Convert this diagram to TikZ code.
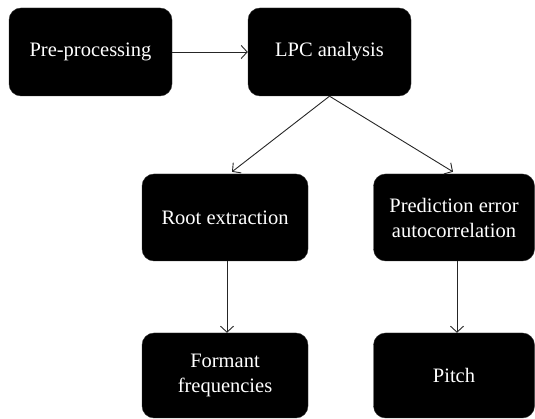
\documentclass[tikz,border=0pt]{standalone}
\usepackage{fontspec}
\setmainfont{Liberation Serif}
\usetikzlibrary{arrows.meta}
\begin{document}
\begin{tikzpicture}[x=1pt, y=1pt,
  every node/.style={font=\fontsize{20.5}{25}\selectfont},
  stagebox/.style={fill=black, draw=black!80, rounded corners=12pt, text=white,
    minimum width=163pt, minimum height=88pt, align=center, inner sep=0pt},
  link/.style={-{Straight Barb[length=6pt, width=13pt]}, black!85, line width=0.9pt}]
  \useasboundingbox (0,0) rectangle (535,419);
  % Top row
  \node[stagebox] (pre) at (90.5, 367) {Pre-processing};
  \node[stagebox] (lpc) at (329.5, 367) {LPC analysis};
  % Middle row
  \node[stagebox, minimum width=166pt, minimum height=87pt] (root) at (225, 201.5) {Root extraction};
  \node[stagebox, minimum width=161pt, minimum height=87pt] (err) at (454, 201.5) {Prediction error\\autocorrelation};
  % Bottom row
  \node[stagebox, minimum width=166pt, minimum height=85pt] (formant) at (225, 43.5) {Formant\\frequencies};
  \node[stagebox, minimum width=161pt, minimum height=85pt] (pitch) at (454, 43.5) {Pitch};
  % Connectors
  \draw[link] (pre) -- (lpc);
  \draw[link] (lpc.south) -- ([xshift=7pt, yshift=2pt]root.north);
  \draw[link] (lpc.south) -- ([xshift=-1pt, yshift=2pt]err.north);
  \draw[link] ([xshift=2pt]root.south) -- ([xshift=2pt]formant.north);
  \draw[link] ([xshift=3pt]err.south) -- ([xshift=3pt]pitch.north);
\end{tikzpicture}
\end{document}
